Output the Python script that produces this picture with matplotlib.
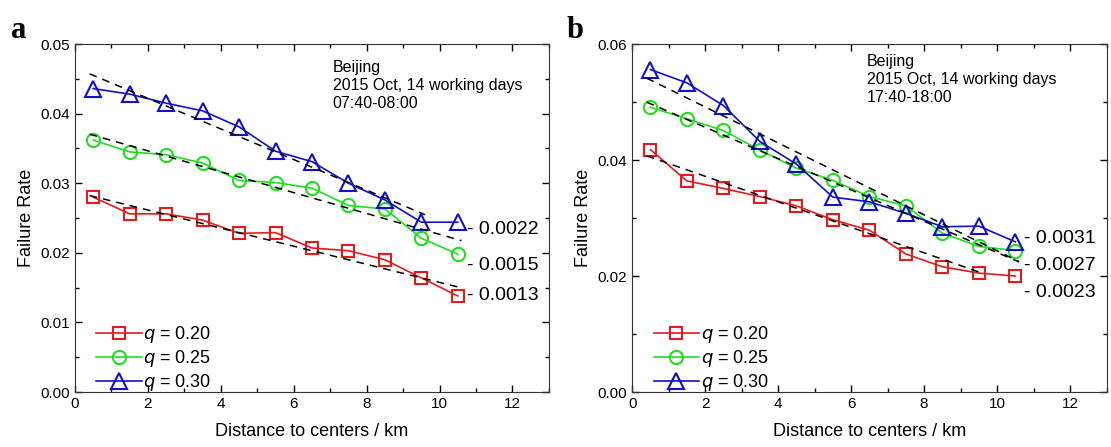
import numpy as np
import matplotlib
matplotlib.use('Agg')
import matplotlib.pyplot as plt
from matplotlib.ticker import MultipleLocator

plt.rcParams['font.family'] = ['Liberation Sans', 'DejaVu Sans']

# distance bins (km)
dist = [0.5, 1.5, 2.5, 3.5, 4.5, 5.5, 6.5, 7.5, 8.5, 9.5, 10.5]
q_labels = ['$q$ = 0.20', '$q$ = 0.25', '$q$ = 0.30']

# panel a: morning 07:40-08:00
a_q20 = [0.0280, 0.0256, 0.0256, 0.0247, 0.0228, 0.0229, 0.0207, 0.0203, 0.0190, 0.0164, 0.0138]
a_q25 = [0.0362, 0.0345, 0.0341, 0.0329, 0.0304, 0.0301, 0.0293, 0.0268, 0.0263, 0.0221, 0.0198]
a_q30 = [0.0436, 0.0428, 0.0415, 0.0404, 0.0381, 0.0346, 0.0331, 0.0300, 0.0276, 0.0244, 0.0244]
# linear fits: value at x=0.5, slope, x range
a_fit_start = [0.0281, 0.0369, 0.0455]
a_fit_slope = [0.0013, 0.0015, 0.0022]
a_fit_end = [10.6, 10.6, 9.6]
a_slope_txt = ['- 0.0013', '- 0.0015', '- 0.0022']
a_slope_y = [0.0138, 0.0182, 0.0234]

# panel b: evening 17:40-18:00
b_q20 = [0.0418, 0.0364, 0.0351, 0.0337, 0.0321, 0.0297, 0.0279, 0.0238, 0.0216, 0.0205, 0.0200]
b_q25 = [0.0491, 0.0471, 0.0451, 0.0417, 0.0386, 0.0365, 0.0337, 0.0321, 0.0274, 0.0251, 0.0244]
b_q30 = [0.0556, 0.0533, 0.0494, 0.0432, 0.0393, 0.0336, 0.0328, 0.0308, 0.0285, 0.0286, 0.0259]
b_fit_start = [0.0405, 0.0497, 0.0538]
b_fit_slope = [0.0022, 0.0027, 0.0031]
b_fit_end = [9.6, 10.6, 10.6]
b_slope_txt = ['- 0.0023', '- 0.0027', '- 0.0031']
b_slope_y = [0.0171, 0.0219, 0.0264]

colors = ['#e41a1c', '#22dd22', '#1010c8']
markers = ['s', 'o', '^']
msizes = [9, 9.5, 11]


def draw(ax, series, fit_start, fit_slope, fit_end, slope_txt, slope_y, ymax, ymaj, ymin, time_txt, tx, ty):
    for i in range(3):
        ax.plot(dist, series[i], color=colors[i], marker=markers[i], markersize=msizes[i],
                markerfacecolor='none', markeredgewidth=1.5, linewidth=1.2, label=q_labels[i])
    for i in range(3):
        xf = np.array([0.4, fit_end[i]])
        yf = fit_start[i] - fit_slope[i] * (xf - 0.5)
        ax.plot(xf, yf, '--', color='black', linewidth=1.1, dashes=(5, 4), zorder=3)
        ax.text(10.75, slope_y[i], slope_txt[i], fontsize=14, va='center', ha='left')
    ax.set_xlim(0, 13)
    ax.set_ylim(0, ymax)
    ax.xaxis.set_major_locator(MultipleLocator(2))
    ax.xaxis.set_minor_locator(MultipleLocator(1))
    ax.yaxis.set_major_locator(MultipleLocator(ymaj))
    ax.yaxis.set_minor_locator(MultipleLocator(ymin))
    ax.yaxis.set_major_formatter(plt.FormatStrFormatter('%.2f'))
    ax.tick_params(which='both', direction='in', top=True, right=True, labelsize=11)
    ax.tick_params(which='major', length=5, width=1)
    ax.tick_params(which='minor', length=3, width=1)
    for s in ax.spines.values():
        s.set_color('#333333')
    ax.set_xlabel('Distance to centers / km', fontsize=13, labelpad=9)
    ax.set_ylabel('Failure Rate', fontsize=13)
    ax.text(tx, ty, 'Beijing\n2015 Oct, 14 working days\n' + time_txt, transform=ax.transAxes,
            fontsize=11.5, va='top', ha='left', linespacing=1.25)
    ax.legend(loc='upper left', bbox_to_anchor=(0.03, 0.215), frameon=False, fontsize=13,
              handlelength=2.5, handletextpad=0.1, labelspacing=0.15, borderaxespad=0)


fig = plt.figure(figsize=(11.11, 4.47), dpi=100)
ax1 = fig.add_axes([0.0675, 0.123, 0.4266, 0.7785])
ax2 = fig.add_axes([0.569, 0.123, 0.427, 0.7785])

draw(ax1, [a_q20, a_q25, a_q30], a_fit_start, a_fit_slope, a_fit_end, a_slope_txt, a_slope_y,
     0.05, 0.01, 0.005, '07:40-08:00', 0.544, 0.955)
draw(ax2, [b_q20, b_q25, b_q30], b_fit_start, b_fit_slope, b_fit_end, b_slope_txt, b_slope_y,
     0.06, 0.02, 0.01, '17:40-18:00', 0.494, 0.97)

fig.text(0.01, 0.915, 'a', fontsize=22, fontweight='bold', family='Liberation Serif')
fig.text(0.51, 0.915, 'b', fontsize=22, fontweight='bold', family='Liberation Serif')

fig.savefig('out.png', dpi=100)
